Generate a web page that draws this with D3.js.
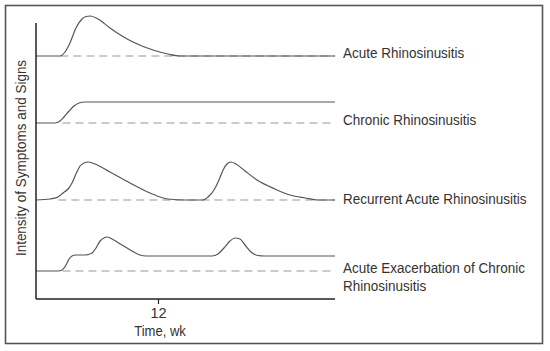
<!DOCTYPE html>
<html>
<head>
<meta charset="utf-8">
<script src="https://cdn.jsdelivr.net/npm/d3@7"></script>
<style>
  body { margin: 0; background: #fff; }
  svg text { font-family: "Liberation Sans Narrow", "Arial Narrow", "Liberation Sans", sans-serif; fill: #333; }
</style>
</head>
<body>
<svg id="canvas"></svg>
<script>
// rows, top to bottom
const names = [
    ["Acute Rhinosinusitis"],
    ["Chronic Rhinosinusitis"],
    ["Recurrent Acute Rhinosinusitis"],
    ["Acute Exacerbation of Chronic", "Rhinosinusitis"]
];

// where each row sits on the intensity axis (arbitrary units)
const offsets = [243, 176, 99, 28];
const dashFrom = [2.4, 2.6, 2.2, 2.6];   // week where dashed baseline begins

// [week, intensity above the row's baseline]
const acute = [[0,0],[2.36,0],[2.85,4],[3.34,13],[3.93,28],[4.52,37],[4.92,39.5],[5.31,40],[6.1,37],
    [7.28,28],[8.46,20],[9.54,14],[11.51,6],[12.98,2],[14.16,0],[29.41,0]];
const chronic = [[0,0],[1.87,0],[2.36,2],[2.75,6],[3.25,12],[3.74,17],[4.23,20],[4.82,21],[29.41,21]];
const recurrent = [[0,0],[1.38,1],[2.16,3],[2.66,7],[3.15,11],[3.54,17],[3.93,26],[4.33,34],[4.72,37],[5.11,38],
    [5.8,36],[7.28,28],[9.25,17],[11.21,7],[12.98,1],[14.66,0],[16.43,0],[16.92,3],[17.51,10],[18.0,20],
    [18.4,30],[18.79,36],[19.18,38],[19.67,36],[20.56,29],[21.74,20],[23.51,11],[24.98,5],[26.46,2],[27.74,0],[29.41,0]];
const exacerb = [[0,0],[2.16,0],[2.56,1],[2.95,6],[3.25,12],[3.54,15],[3.93,16],[4.82,16],[5.51,18],[5.9,23],
    [6.3,30],[6.69,33],[6.98,34],[7.48,32],[8.46,26],[9.44,20],[10.23,16],[10.82,15],[17.31,15],[17.9,17],
    [18.49,23],[19.08,30],[19.57,33],[20.07,32],[20.56,26],[21.15,19],[21.84,15.5],[22.43,15],[29.41,15]];
const series = [acute, chronic, recurrent, exacerb];

const xTicks = [12];

const width = 550, height = 351;
const svg = d3.select("#canvas").attr("width", width).attr("height", height);

const marginLeft = 36, plotRight = 341, marginTop = 23, axisY = 299;
const squeeze = 0.87; // no condensed face installed, so squeeze the regular one

const xScale = d3.scaleLinear().domain([0, 30]).range([marginLeft, plotRight]);
const yScale = d3.scaleLinear().domain([0, 276]).range([axisY, marginTop]);

// outer frame
svg.append("rect")
    .attr("x", 5.5).attr("y", 5.5)
    .attr("width", 537).attr("height", 338)
    .attr("fill", "none")
    .attr("stroke", "#555")
    .attr("stroke-width", 1.6);

// dashed baselines
svg.append("g")
    .selectAll("line")
    .data(offsets)
    .join("line")
    .attr("x1", (d, i) => xScale(dashFrom[i]))
    .attr("x2", xScale(29.41))
    .attr("y1", d => yScale(d))
    .attr("y2", d => yScale(d))
    .attr("stroke", "#bbb")
    .attr("stroke-width", 1.3)
    .attr("stroke-dasharray", "8 5");

const line = d3.line()
    .x(d => xScale(d[0]))
    .y(d => d[1])
    .curve(d3.curveMonotoneX);

svg.append("g")
    .selectAll("path")
    .data(series)
    .join("path")
    .attr("fill", "none")
    .attr("stroke", "#555")
    .attr("stroke-width", 1.2)
    .attr("d", (s, i) => line(s.map(p => [p[0], yScale(offsets[i] + p[1])])));

// axes
svg.append("line")
    .attr("x1", marginLeft).attr("x2", marginLeft)
    .attr("y1", marginTop).attr("y2", axisY)
    .attr("stroke", "#222").attr("stroke-width", 1.5);
svg.append("line")
    .attr("x1", marginLeft).attr("x2", xScale(29.41))
    .attr("y1", axisY).attr("y2", axisY)
    .attr("stroke", "#222").attr("stroke-width", 1.5);

const xAxis = svg.append("g")
    .attr("transform", `translate(0,${axisY})`)
    .call(d3.axisBottom(xScale).tickValues(xTicks).tickSize(5).tickPadding(4));
xAxis.select(".domain").remove();
xAxis.selectAll(".tick line").attr("stroke", "#222").attr("stroke-width", 1.2);
xAxis.selectAll(".tick text")
    .attr("font-family", null)
    .attr("font-size", 14.5)
    .attr("fill", "#333");

svg.append("text")
    .attr("transform", `translate(160,336) scale(${squeeze},1)`)
    .attr("text-anchor", "middle")
    .attr("font-size", 15)
    .text("Time, wk");

svg.append("text")
    .attr("transform", `translate(26,158) rotate(-90) scale(${squeeze},1)`)
    .attr("text-anchor", "middle")
    .attr("font-size", 15.5)
    .text("Intensity of Symptoms and Signs");

// row labels
const labelY = [57.5, 125, 203.5, 273];
names.forEach((lines, i) => {
    const t = svg.append("text")
        .attr("transform", `translate(343,${labelY[i]}) scale(${squeeze},1)`)
        .attr("font-size", 15.5);
    lines.forEach((s, j) => {
        t.append("tspan")
            .attr("x", 0)
            .attr("dy", j === 0 ? 0 : 18)
            .text(s);
    });
});
</script>
</body>
</html>
